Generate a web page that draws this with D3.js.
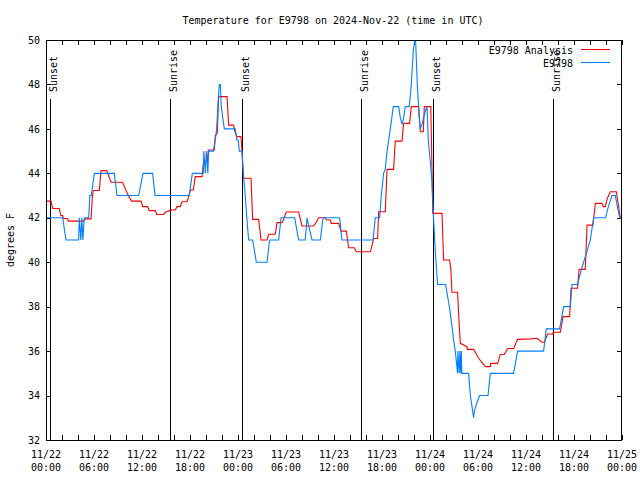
<!DOCTYPE html>
<html><head><meta charset="utf-8">
<script src="https://cdn.jsdelivr.net/npm/d3@7"></script>
<style>
body{margin:0;background:#fff}
svg text{font-family:"DejaVu Sans Mono",monospace;font-size:10px;fill:#000}
</style></head>
<body><svg id="chart" width="640" height="480"></svg>
<script>
// ---- data (hours since 11/22 00:00 UTC) ----
const titleText = "Temperature for E9798 on 2024-Nov-22 (time in UTC)";
const yLabel = "degrees F";
const seriesNames = ["E9798 Analysis", "E9798"];
const yTicks = [32,34,36,38,40,42,44,46,48,50];
const xTickHours = d3.range(0, 73, 2);
const xLabelHours = [0,6,12,18,24,30,36,42,48,54,60,66,72];
const xLabelDates = ["11/22","11/22","11/22","11/22","11/23","11/23","11/23","11/23","11/24","11/24","11/24","11/24","11/25"];
const xLabelTimes = ["00:00","06:00","12:00","18:00","00:00","06:00","12:00","18:00","00:00","06:00","12:00","18:00","00:00"];
const sunHours = [0.45, 15.45, 24.45, 39.38, 48.33, 63.33];
const sunNames = ["Sunset","Sunrise","Sunset","Sunrise","Sunset","Sunrise"];

const analysisHours = [0.0,0.63,0.83,1.66,1.85,2.08,2.16,2.70,2.79,4.70,4.88,5.63,5.79,5.91,6.66,6.88,7.58,8.13,9.58,9.91,10.29,10.70,11.88,12.08,12.70,12.91,13.66,13.83,14.70,14.91,15.63,16.16,16.38,16.79,17.00,17.63,17.83,18.04,18.41,18.66,19.50,19.70,20.16,20.29,21.04,21.16,21.41,21.58,22.63,22.83,23.45,23.60,23.88,24.38,24.70,25.63,25.83,26.58,26.88,27.63,27.83,28.66,28.88,29.50,29.66,30.04,31.58,32.00,33.45,33.79,34.08,34.91,35.04,35.54,35.66,36.58,36.88,37.54,37.83,38.54,38.79,40.54,40.79,40.95,41.45,41.58,42.41,42.63,43.45,43.66,44.50,44.70,45.45,45.66,46.58,46.79,47.16,47.29,48.10,48.35,49.50,49.70,50.45,50.60,50.75,51.45,51.60,51.79,52.63,52.66,53.45,54.04,54.91,55.54,55.60,56.45,56.79,57.29,57.70,58.45,58.95,60.54,61.38,62.00,62.29,62.70,63.38,63.41,64.29,64.63,65.45,65.63,66.45,66.63,67.41,67.63,68.38,68.66,69.50,69.66,69.91,70.16,70.54,71.29,71.79,71.91];
const analysisTemps = [42.75,42.75,42.42,42.42,42.1,42.1,41.97,41.97,41.85,41.85,41.95,41.95,42.9,43.23,43.23,44.12,44.12,43.6,43.6,43.3,43.0,42.75,42.75,42.5,42.5,42.32,42.32,42.15,42.15,42.25,42.35,42.35,42.5,42.5,42.72,42.72,42.95,43.25,43.25,43.85,43.85,44.55,44.55,45.05,45.05,45.7,45.8,47.45,47.45,46.17,46.17,45.9,45.65,45.65,43.78,43.78,41.93,41.93,41.0,41.0,41.26,41.26,41.78,41.78,41.9,42.26,42.26,41.63,41.63,41.8,42.0,42.0,41.9,41.9,41.75,41.75,41.4,41.4,40.65,40.65,40.47,40.47,40.8,41.07,41.07,42.27,42.27,44.18,44.18,45.45,45.45,46.25,46.25,47.0,47.0,45.87,45.87,47.0,47.0,42.2,42.2,40.1,40.1,39.7,38.65,38.65,37.5,36.35,36.2,36.08,36.08,35.7,35.3,35.3,35.45,35.45,35.85,35.85,36.12,36.12,36.53,36.55,36.58,36.4,36.4,36.77,36.77,36.85,36.85,37.55,37.55,38.83,38.83,39.68,39.68,41.67,41.67,42.65,42.65,42.5,42.5,42.87,43.17,43.17,42.0,42.0];

const obsHours = [0.13,2.08,2.50,4.08,4.16,4.35,4.48,4.60,4.79,5.33,5.48,5.66,6.04,8.54,8.88,11.58,12.13,13.33,13.63,17.91,18.29,19.66,19.73,19.91,20.04,20.23,20.33,20.91,21.16,21.33,21.48,21.66,21.79,21.91,22.10,22.29,23.66,23.85,24.04,24.16,24.50,24.66,24.91,25.10,25.33,25.83,26.29,27.63,27.95,29.08,29.38,31.08,31.58,32.41,32.63,32.79,33.25,34.29,34.63,36.70,37.00,40.88,41.16,41.70,41.91,42.20,42.41,42.63,43.04,43.41,44.08,44.29,44.50,44.70,44.91,45.41,45.66,45.91,46.10,46.20,46.41,46.66,46.79,47.00,47.20,47.41,47.63,47.79,48.04,48.23,48.41,48.66,48.95,49.95,50.13,50.33,50.54,50.75,50.95,51.16,51.45,51.48,51.66,51.73,51.85,51.91,51.98,52.83,53.04,53.25,53.45,53.54,53.79,54.20,55.25,55.54,58.45,58.95,62.20,62.54,64.20,64.70,65.54,65.75,66.45,66.79,67.20,67.63,68.04,68.45,69.95,70.29,70.75,71.16,71.70,71.91];
const obsTemps = [42,42,41,41,42,41,42,41,42,42,43,43,44,44,43,43,44,44,43,43,44,44,45,44,45,44,45,45,45.5,46,47,48,48,47,46.5,46,46,45.5,45.5,45,45,44,43,42,41,41,40,40,41,41,42,42,41,41,42,41.7,41,41,42,42,41,41,42,42,43,44,44.2,45,46,47,47,46.5,46.2,46.5,47,47,48,49.5,50,50,48,46.5,46,46.2,46.5,46.8,47,45.5,44.5,43.7,42.2,40.5,39,39,38.6,38.2,37.7,37.1,36.5,36,35,36,35,36,35,36,35,35,34,33.5,33,33.3,33.6,34,34,35,35,36,36,37,37,38,38,39,39,39.5,40,40.5,41,42,42,42.5,43,43,42,42];

const colors = ["#ff0000", "#0080ff"];

// ---- layout ----
const L = 46, R = 622, T = 40, B = 440;
const svg = d3.select("#chart");
const x = d3.scaleLinear().domain([0, 72]).range([L, R]);
const y = d3.scaleLinear().domain([32, 50]).range([B, T]);

svg.append("defs").append("clipPath").attr("id","clip")
  .append("rect").attr("x", L).attr("y", T).attr("width", R - L).attr("height", B - T);

// axes (inward ticks, mirrored)
const tk = 5;
function styleAxis(g){ g.select(".domain").remove(); g.selectAll("line").attr("stroke","#000").attr("shape-rendering","crispEdges"); }
svg.append("g").attr("transform",`translate(0,${B})`)
  .call(d3.axisBottom(x).tickValues(xTickHours).tickSize(-tk).tickFormat("")).call(styleAxis);
svg.append("g").attr("transform",`translate(0,${T})`)
  .call(d3.axisTop(x).tickValues(xTickHours).tickSize(-tk).tickFormat("")).call(styleAxis);
const yl = svg.append("g").attr("transform",`translate(${L},0)`)
  .call(d3.axisLeft(y).tickValues(yTicks).tickSize(-tk).tickPadding(6).tickFormat(d3.format("d"))).call(styleAxis);
yl.selectAll("text").attr("font-family",null).attr("font-size",null).attr("fill","#000");
yl.attr("font-family",null).attr("font-size",null);
svg.append("g").attr("transform",`translate(${R},0)`)
  .call(d3.axisRight(y).tickValues(yTicks).tickSize(-tk).tickFormat("")).call(styleAxis);

// x labels, two lines
const xl = svg.append("g");
xLabelHours.forEach((h, i) => {
  const t = xl.append("text").attr("text-anchor","middle");
  t.append("tspan").attr("x", x(h)).attr("y", 458).text(xLabelDates[i]);
  t.append("tspan").attr("x", x(h)).attr("y", 471).text(xLabelTimes[i]);
});

// sun lines
sunHours.forEach((h, i) => {
  const sx = Math.round(x(h)) + 0.5;
  svg.append("line").attr("x1", sx).attr("x2", sx).attr("y1", 99).attr("y2", B)
    .attr("stroke","#000").attr("stroke-width",1);
  svg.append("text").attr("transform",`translate(${sx+6},92) rotate(-90)`)
    .attr("text-anchor","start").text(sunNames[i]);
});

// series
const line = d3.line().x(d => x(d[0])).y(d => y(d[1]));
const plot = svg.append("g").attr("clip-path","url(#clip)");
const series = [
  d3.zip(analysisHours, analysisTemps),
  d3.zip(obsHours, obsTemps)
];
series.forEach((s, i) => {
  plot.append("path").datum(s).attr("d", line).attr("fill","none")
    .attr("stroke", colors[i]).attr("stroke-width", 1.1);
});

// frame
svg.append("rect").attr("x", L + 0.5).attr("y", T + 0.5).attr("width", R - L - 1).attr("height", B - T)
  .attr("fill","none").attr("stroke","#000").attr("stroke-width",1);

// legend
seriesNames.forEach((n, i) => {
  const ly = 49.5 + i * 13;
  svg.append("text").attr("x", 573).attr("y", ly + 4).attr("text-anchor","end").text(n);
  svg.append("line").attr("x1", 581).attr("x2", 610).attr("y1", ly).attr("y2", ly)
    .attr("stroke", colors[i]).attr("stroke-width", 1.1);
});

// title & y label
svg.append("text").attr("x", 333).attr("y", 24).attr("text-anchor","middle").text(titleText);
svg.append("text").attr("transform","translate(14,240) rotate(-90)").attr("text-anchor","middle").text(yLabel);
</script></body></html>
